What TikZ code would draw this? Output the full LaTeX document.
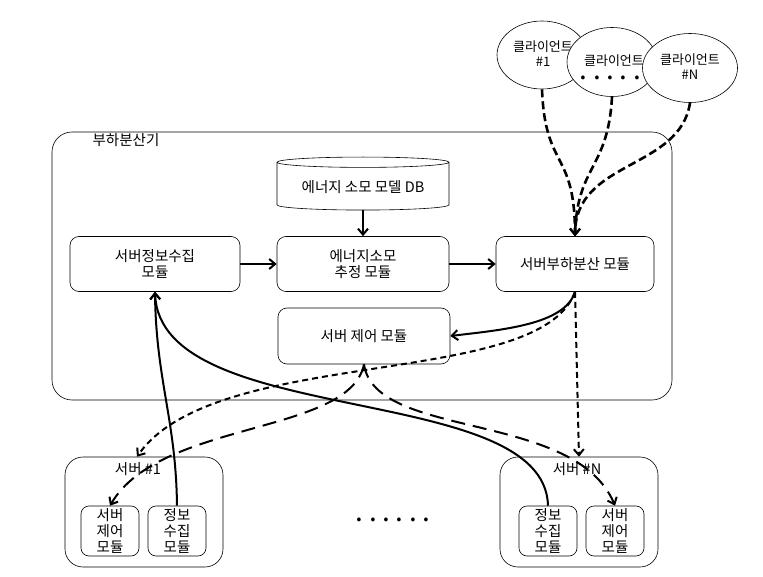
\documentclass[tikz,border=0pt]{standalone}
\usepackage{fontspec}
\setmainfont{Noto Sans CJK KR}
\usetikzlibrary{arrows.meta,shapes.geometric}

\tikzset{
    module/.style={draw, line width=.6pt, rounded corners=9pt, align=center,
        minimum height=55pt, font=\fontsize{14.5}{16}\selectfont},
    submodule/.style={draw, line width=.6pt, rounded corners=8pt, align=center,
        minimum width=58pt, minimum height=50pt, inner sep=1pt,
        font=\fontsize{14.5}{16}\selectfont},
    server/.style={draw, line width=.6pt, rounded corners=18pt,
        minimum width=158pt, minimum height=110pt},
    client/.style={draw, ellipse, fill=white, line width=.6pt},
    ctext/.style={align=center, font=\fontsize{13}{15}\selectfont},
    tag/.style={font=\fontsize{14.5}{16}\selectfont},
    dots/.style={font=\fontsize{28}{28}\selectfont\addfontfeature{LetterSpace=20}},
    tip/.style={-{Straight Barb[length=6pt,width=10pt,line width=2pt]}},
    flow/.style={tip, line width=2pt},
    ctrl/.style={tip, line width=2pt, dash pattern=on 6pt off 4pt},
    req/.style={tip, line width=2.6pt, dash pattern=on 8pt off 4pt},
    cmd/.style={tip, line width=2pt, dash pattern=on 14pt off 8pt}
}

\begin{document}
\begin{tikzpicture}[x=1pt, y=-1pt]
        \useasboundingbox (0,0) rectangle (763,577);

        %%load balancer
        \node[draw, line width=.6pt, rounded corners=20pt, minimum width=620pt,
            minimum height=268pt] (lb) at (362,266) {};
        \node[tag] (lbtag) at (126,140) {부하분산기};

        \node[cylinder, draw, line width=.6pt, shape border rotate=90, aspect=.08,
            minimum width=172pt, minimum height=53pt, tag] (db) at (363,187) {에너지 소모 모델 DB};

        \node[module, minimum width=170pt] (sj) at (155,264) {서버정보수집\\모듈};
        \node[module, minimum width=172pt] (ee) at (363,264) {에너지소모\\추정 모듈};
        \node[module, minimum width=158pt] (lbm) at (575,264) {서버부하분산 모듈};
        \node[module, minimum width=172pt, minimum height=56pt] (sc) at (364,336) {서버 제어 모듈};

        %%clients
        \node[client, minimum width=90pt, minimum height=68pt] (c1) at (542,55) {};
        \node[ctext] (c1t) at (543,54) {클라이언트\\\#1};
        \node[client, minimum width=90pt, minimum height=69pt] (c2) at (612,62) {};
        \node[ctext] (c2t) at (614,61) {클라이언트};
        \node[dots] (c2d) at (617,78) {......};
        \node[client, minimum width=95pt, minimum height=69pt] (cN) at (690,68) {};
        \node[ctext] (cNt) at (690,67) {클라이언트\\\#N};

        %%servers
        \node[server] (s1) at (144,512) {};
        \node[tag] (s1t) at (138,469) {서버 \#1};
        \node[submodule] (m1c) at (110,531) {서버\\제어\\모듈};
        \node[submodule] (m1i) at (177,531) {정보\\수집\\모듈};

        \node[server] (sN) at (579,512) {};
        \node[tag] (sNt) at (577,469) {서버 \#N};
        \node[submodule] (mNi) at (548,531) {정보\\수집\\모듈};
        \node[submodule] (mNc) at (615,531) {서버\\제어\\모듈};

        \node[dots] (gap) at (393,520) {......};

        %%requests
        \draw[req] (c1.south) .. controls (545,170) and (575,150) .. (lbm.north);
        \draw[req] (c2.south) .. controls (608,170) and (577,165) .. (lbm.north);
        \draw[req] (cN.south) .. controls (680,170) and (575,160) .. (lbm.north);

        %%inside
        \draw[flow] (db.south) -- (ee.north);
        \draw[flow] (sj) -- (ee);
        \draw[flow] (ee) -- (lbm);
        \draw[flow] (lbm.south) .. controls (565,325) and (500,330) .. (sc.east);

        %%balancing
        \draw[ctrl] (lbm.south) .. controls (540,390) and (215,345) .. ([xshift=-7pt]s1.north);
        \draw[ctrl] (lbm.south) -- (sN.north);

        %%control
        \draw[cmd] (sc.south) .. controls (350,435) and (160,420) .. (m1c.north);
        \draw[cmd] (sc.south) .. controls (375,440) and (575,410) .. (mNc.north);

        %%collection
        \draw[flow] (m1i.north) .. controls (176,420) and (156,380) .. (sj.south);
        \draw[flow] (mNi.north) .. controls (545,380) and (160,430) .. (sj.south);

\end{tikzpicture}
\end{document}
